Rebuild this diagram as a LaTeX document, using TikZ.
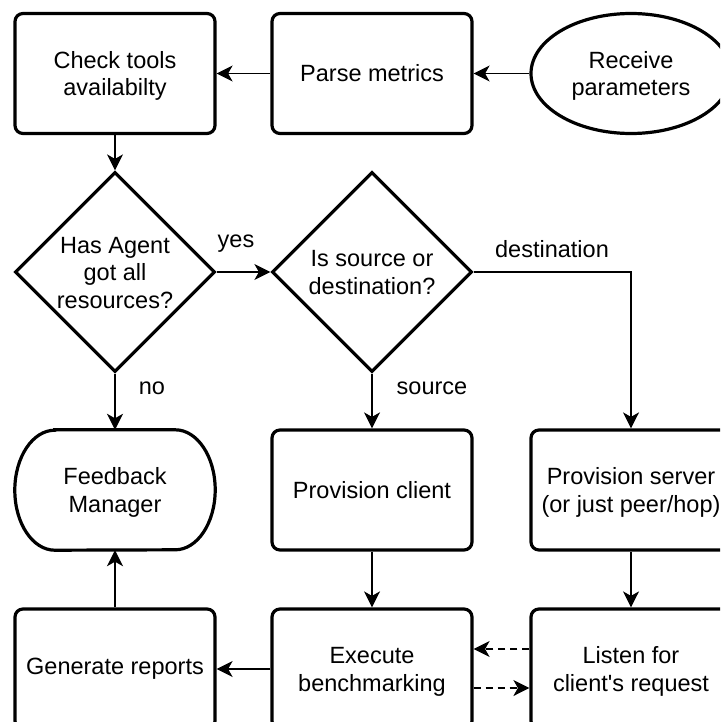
\documentclass[tikz,border=0pt]{standalone}
\usepackage{fontspec}
\setmainfont{Liberation Sans}
\usetikzlibrary{shapes.geometric,arrows.meta,calc}

% multi-line label, lines spaced by struts, with a little extra room on top
\newcommand{\ml}[1]{\raisebox{0pt}[\dimexpr\height+6pt\relax][\depth]{\begin{tabular}{@{}c@{}}#1\end{tabular}}}

\tikzset{
  every node/.style={font=\fontsize{23.5}{27.5}\selectfont, align=center},
  box/.style={draw, line width=3.2pt, rounded corners=8pt, minimum width=200pt,
              minimum height=120pt, inner sep=0pt},
  oval/.style={draw, ellipse, line width=3.2pt, minimum width=200pt,
               minimum height=120pt, inner sep=0pt},
  decision/.style={draw, diamond, line width=3.2pt, minimum width=200pt,
                   minimum height=200pt, aspect=1, inner sep=-5pt},
  terminal/.style={minimum width=200pt, minimum height=120pt, inner sep=0pt},
  arr/.style={line width=1.6pt, -{Stealth[length=16pt,width=16pt,inset=4.5pt]}},
  dasharr/.style={arr, dash pattern=on 7pt off 5pt},
  lbl/.style={inner sep=0pt}
}

\begin{document}
\begin{tikzpicture}[x=1pt, y=-1pt]
  \useasboundingbox (0,0) rectangle (720,722);
  \clip (0,0) rectangle (720,722);

  % top row
  \node[box]  (check) at (115,73.5) {\ml{Check tools\\availabilty}};
  \node[box]  (parse) at (372,73.5) {Parse metrics};
  \node[oval] (recv)  at (631,73.5) {\ml{Receive\\parameters}};

  % decisions
  \node[decision] (agent) at (115,272) {\ml{Has Agent\\got all\\resources?}};
  \node[decision] (role)  at (372,272) {\ml{Is source or\\destination?}};

  % third row: terminator with elliptical ends
  \node[terminal] (fb) at (115,490) {\ml{Feedback\\Manager}};
  \draw[line width=3.2pt]
    ($(fb.north west)+(40,0)$) -- ($(fb.north east)+(-40,0)$)
    arc[start angle=90, end angle=-90, x radius=40pt, y radius=60pt]
    -- ($(fb.south west)+(40,0)$)
    arc[start angle=270, end angle=90, x radius=40pt, y radius=60pt] -- cycle;
  \node[box] (client) at (372,490) {Provision client};
  \node[box] (server) at (631,490) {\ml{Provision server\\(or just peer/hop)}};

  % bottom row
  \node[box] (report) at (115,669) {Generate reports};
  \node[box] (bench)  at (372,669) {\ml{Execute\\benchmarking}};
  \node[box] (listen) at (631,669) {\ml{Listen for\\client\textquotesingle s request}};

  % connectors
  \draw[arr] (recv.west) -- (parse.east);
  \draw[arr] (parse.west) -- (check.east);
  \draw[arr] (check.south) -- (agent.north);
  \draw[arr] (agent.east) -- (role.west);
  \draw[arr] (agent.south) -- (fb.north);
  \draw[arr] (role.south) -- (client.north);
  \draw[arr] (role.east) -| (server.north);
  \draw[arr] (client.south) -- (bench.north);
  \draw[arr] (server.south) -- (listen.north);
  \draw[arr] (bench.west) -- (report.east);
  \draw[arr] (report.north) -- (fb.south);
  \draw[dasharr] ([yshift=20pt]listen.west) -- ([yshift=20pt]bench.east);
  \draw[dasharr] ([yshift=-19pt]bench.east) -- ([yshift=-19pt]listen.west);

  % branch labels
  \node[lbl] at (236,244) {yes};
  \node[lbl] at (152,388) {no};
  \node[lbl] at (432,388) {source};
  \node[lbl] at (552,249) {destination};
\end{tikzpicture}
\end{document}
